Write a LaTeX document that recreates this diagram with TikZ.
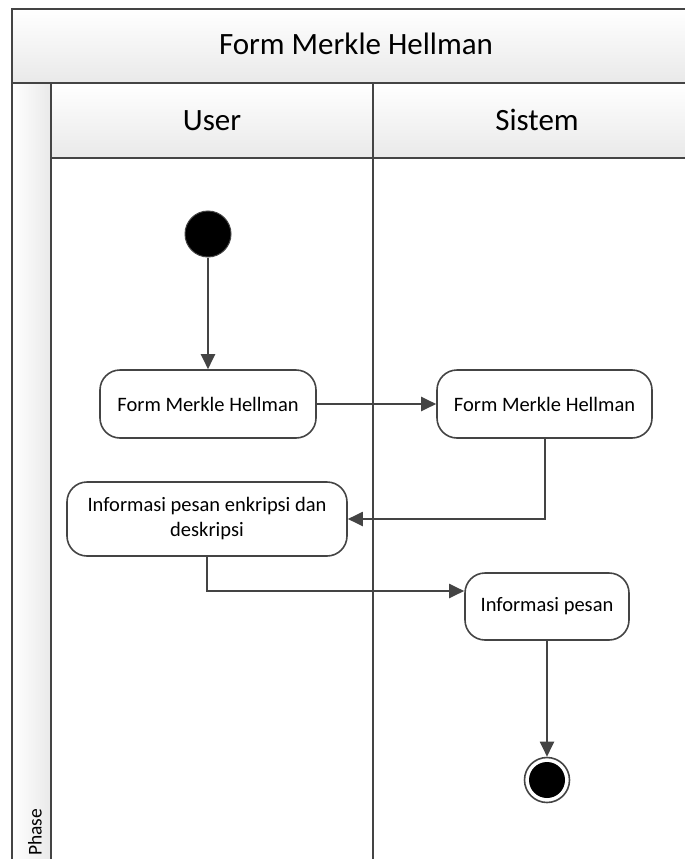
\documentclass[tikz,border=0pt]{standalone}
\usepackage{fontspec}
\setmainfont{Carlito}
\usetikzlibrary{arrows.meta,shadings}
\definecolor{edge}{HTML}{444444}
\definecolor{band}{HTML}{E9E9E9}
\tikzset{
  frame/.style={draw=edge, line width=2.2pt},
  heading/.style={font=\fontsize{31}{36}\selectfont, text=black, inner sep=0pt, anchor=base},
  act/.style={draw=edge, line width=1.6pt, fill=white, rounded corners=20pt,
    font=\fontsize{20.5}{25}\selectfont, align=center, inner sep=0pt},
  flow/.style={draw=edge, line width=2pt, -{Triangle[length=15pt,width=14pt]}},
  startdot/.style={circle, fill=black, draw=edge, line width=1pt, minimum size=46pt, inner sep=0pt},
  enddot/.style={circle, fill=white, draw=edge, line width=1.6pt, minimum size=45pt, inner sep=0pt}
}
\begin{document}
\begin{tikzpicture}[x=1pt,y=-1pt]
\useasboundingbox (0,0) rectangle (685,859);
\clip (0,0) rectangle (685,859);

% swimlane backgrounds
\shade[top color=white, bottom color=band] (12,9) rectangle (700,83);
\shade[top color=white, bottom color=band] (51,83) rectangle (700,158);
\shade[left color=white, right color=band] (12,83) rectangle (51,870);

% swimlane frame
\draw[frame] (12,870) -- (12,9) -- (700,9);
\draw[frame] (12,83) -- (700,83);
\draw[frame] (51,83) -- (51,870);
\draw[frame] (51,158) -- (700,158);
\draw[frame] (373,83) -- (373,870);

% headings
\node[heading] (title) at (356,55) {Form Merkle Hellman};
\node[heading] (user) at (212,130) {User};
\node[heading] (sistem) at (537,130) {Sistem};
\node[rotate=90, anchor=west, inner sep=0pt, font=\fontsize{19.5}{22}\selectfont] (phase) at (35,856) {Phase};

% activities
\node[startdot] (start) at (208,234) {};
\node[act, minimum width=216pt, minimum height=68pt] (a1) at (208,404) {Form Merkle Hellman};
\node[act, minimum width=215pt, minimum height=68pt] (a2) at (544.5,404) {Form Merkle Hellman};
\node[act, minimum width=280pt, minimum height=74pt] (a3) at (207,519) {Informasi pesan enkripsi dan\\deskripsi};
\node[act, minimum width=164pt, minimum height=67pt] (a4) at (547,606.5) {Informasi pesan};
\node[enddot] (stop) at (547,780) {};
\node[circle, fill=black, minimum size=36pt, inner sep=0pt] (stopcore) at (stop) {};

% control flow
\draw[flow] (start) -- (a1);
\draw[flow] (a1) -- (a2);
\draw[flow] (a2.south) |- (a3.east);
\draw[flow] (a3.south) |- ([yshift=15.5pt]a4.west);
\draw[flow] (a4) -- (stop);
\end{tikzpicture}
\end{document}
